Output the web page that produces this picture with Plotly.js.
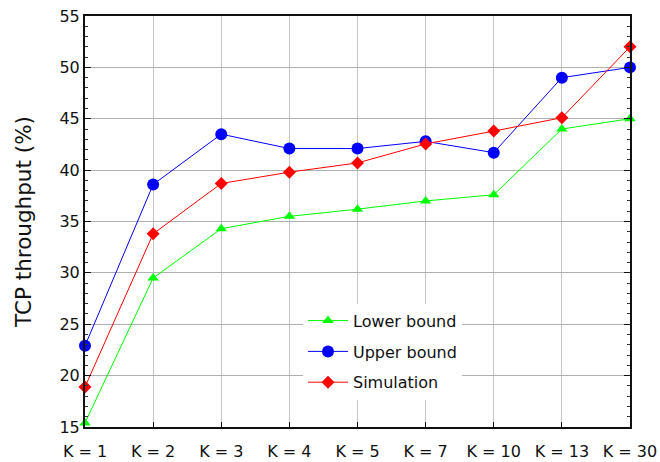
<!DOCTYPE html>
<html><head><meta charset="utf-8">
<script src="https://cdn.plot.ly/plotly-3.0.1.min.js"></script>
<style>html,body{margin:0;padding:0;background:#fff}#chart{width:660px;height:462px}</style>
</head><body><div id="chart"></div>
<script>
const categories = ["K = 1","K = 2","K = 3","K = 4","K = 5","K = 7","K = 10","K = 13","K = 30"];
const lowerBound = [15.4, 29.5, 34.3, 35.5, 36.2, 37.0, 37.6, 44.0, 45.0];
const upperBound = [22.9, 38.6, 43.5, 42.1, 42.1, 42.8, 41.7, 49.0, 50.0];
const simulation = [18.9, 33.8, 38.7, 39.8, 40.7, 42.55, 43.8, 45.1, 52.0];
const yTicks = [15,20,25,30,35,40,45,50,55];

const font = {family: "DejaVu Sans, sans-serif", size: 16, color: "#111"};
const traces = [
  {x: categories, y: lowerBound, name: "Lower bound", legendgroup: "a", type: "scatter", mode: "lines+markers",
   line: {color: "#00ff00", width: 1}, marker: {symbol: "triangle-up", size: 10, color: "#00ff00"}, cliponaxis: false},
  {x: categories, y: upperBound, name: "Upper bound", legendgroup: "b", type: "scatter", mode: "lines+markers",
   line: {color: "#0000ff", width: 1}, marker: {symbol: "circle", size: 12, color: "#0000ff"}, cliponaxis: false},
  {x: categories, y: simulation, name: "Simulation", legendgroup: "c", type: "scatter", mode: "lines+markers",
   line: {color: "#ff0000", width: 1}, marker: {symbol: "diamond", size: 10, color: "#ff0000"}, cliponaxis: false}
];
const layout = {
  width: 660, height: 462,
  margin: {l: 85, r: 30, t: 16, b: 35},
  paper_bgcolor: "#fff", plot_bgcolor: "#fff",
  font: font,
  showlegend: true,
  legend: {x: 0.4, y: 0.30, xanchor: "left", yanchor: "top", bgcolor: "#fff", borderwidth: 0,
           traceorder: "grouped", tracegroupgap: 7, itemwidth: 40,
           font: {family: "DejaVu Sans, sans-serif", size: 16, color: "#111"}},
  xaxis: {type: "category", categoryorder: "array", categoryarray: categories, range: [0, 8],
          showgrid: true, gridcolor: "#c4c4c4", gridwidth: 1,
          showline: true, linecolor: "#111", linewidth: 2, mirror: true,
          ticks: "inside", ticklen: 5, tickcolor: "#111", tickfont: font, zeroline: false,
          ticklabelstandoff: 9},
  yaxis: {range: [15, 55], tickvals: yTicks, ticktext: yTicks.map(String),
          showgrid: true, gridcolor: "#b0b0b0", gridwidth: 1,
          showline: true, linecolor: "#111", linewidth: 2, mirror: "ticks",
          ticks: "inside", ticklen: 6, tickcolor: "#111", tickfont: font, zeroline: false,
          minor: {dtick: 1, ticks: "inside", ticklen: 3, tickcolor: "#333", showgrid: false},
          title: {text: "TCP throughput (%)", font: {family: "DejaVu Sans, sans-serif", size: 21.5, color: "#111"}, standoff: 22}}
};
Plotly.newPlot("chart", traces, layout, {displayModeBar: false, staticPlot: true});
</script></body></html>
